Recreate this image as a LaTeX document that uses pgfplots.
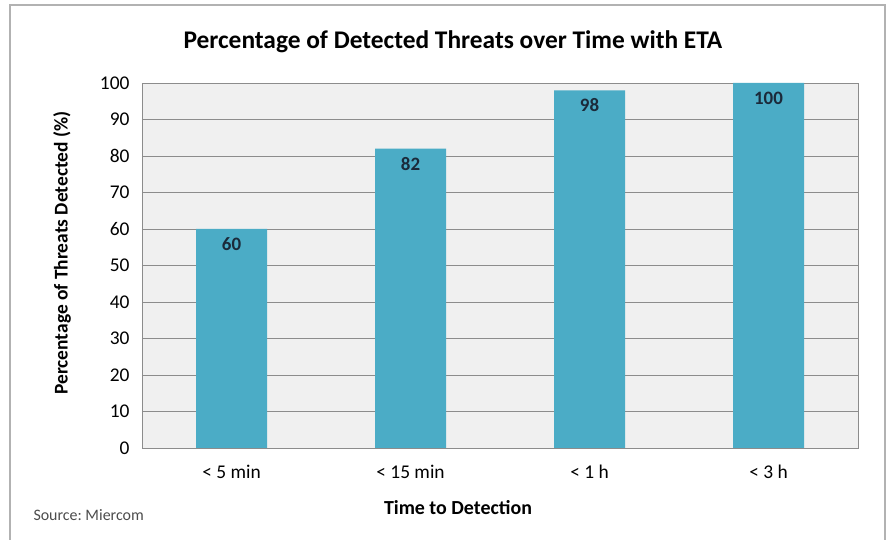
\documentclass[border=0pt]{standalone}
\usepackage{fontspec}
\setmainfont{Carlito}
\usepackage{pgfplots}
\pgfplotsset{compat=1.18}
\definecolor{barc}{HTML}{4BACC6}
\definecolor{bgc}{HTML}{F0F0F0}
\definecolor{gridc}{HTML}{8C8C8C}
\definecolor{lblc}{HTML}{1B2A3A}
\frenchspacing
\begin{document}
\begin{tikzpicture}[x=1bp,y=1bp]
\useasboundingbox (-142,-92) rectangle (749,448);
\fill[white] (-142,-92) rectangle (749,448);
\draw[gray!60, line width=1.5bp] (-132,-95) -- (-132,443) -- (743,443) -- (743,-95);
\begin{axis}[
  at={(0,0)}, anchor=south west,
  scale only axis, width=716bp, height=365bp,
  xmin=-0.5, xmax=3.5, ymin=0, ymax=100,
  xtick={0,1,2,3}, xticklabels={{< 5 min},{< 15 min},{< 1 h},{< 3 h}},
  ytick={0,10,...,100},
  axis background/.style={fill=bgc},
  ymajorgrids, grid style={gridc, line width=0.8bp},
  axis line style={gridc, line width=0.8bp},
  major tick length=0pt,
  tick label style={font=\fontsize{19.5}{22}\selectfont, black},
  /pgf/number format/assume math mode=true,
  yticklabel style={anchor=east, xshift=-9bp},
  xticklabel style={anchor=center, yshift=-24bp},
  ybar, bar width=71bp,
  nodes near coords,
  every node near coord/.append style={anchor=center, yshift=-15bp, font=\bfseries\fontsize{19}{22}\selectfont, text=lblc},
]
\addplot[fill=barc, draw=none] coordinates {(0,60) (1,82) (2,98) (3,100)};
\end{axis}
\node[font=\bfseries\fontsize{25.5}{29}\selectfont] at (311,406) {Percentage of Detected Threats over Time with ETA};
\node[font=\bfseries\fontsize{19.5}{22}\selectfont, rotate=90] at (-80,195) {Percentage of Threats Detected (\%)};
\node[font=\bfseries\fontsize{20}{24}\selectfont] at (316,-60) {Time to Detection};
\node[font=\fontsize{16}{19}\selectfont, text=black!70, anchor=west] at (-112,-67) {Source: Miercom};
\end{tikzpicture}
\end{document}
